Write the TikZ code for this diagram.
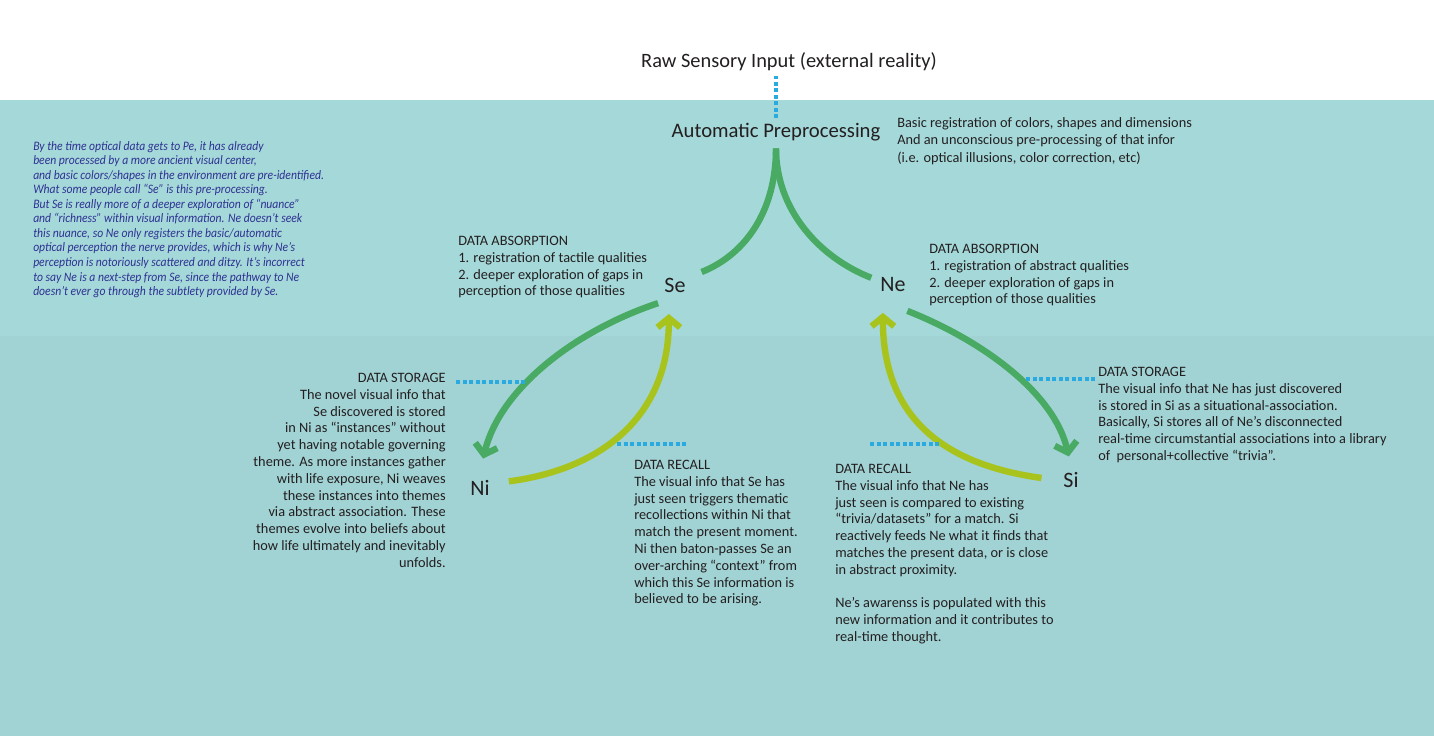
\documentclass[tikz,border=0pt]{standalone}
\usepackage{fontspec}
\setmainfont{Carlito}
\newfontfamily\notefont[FakeStretch=0.9]{Carlito}
\usetikzlibrary{arrows.meta}
\definecolor{tealtop}{RGB}{165,216,217}
\definecolor{tealbot}{RGB}{161,210,212}
\definecolor{flowgreen}{RGB}{73,170,100}
\definecolor{recalllime}{RGB}{168,196,28}
\definecolor{linkblue}{RGB}{41,171,226}
\definecolor{noteblue}{RGB}{46,49,146}
\definecolor{inkblack}{RGB}{35,31,32}

\begin{document}
\begin{tikzpicture}[x=0.75pt,y=-0.75pt,
  every node/.style={text=inkblack},
  func/.style={circle,minimum size=44pt,inner sep=0pt,font=\fontsize{16.5}{19}\selectfont},
  blurb/.style={align=left,anchor=north west,inner sep=0pt,font=\fontsize{10.75}{12.6}\selectfont},
  flow/.style={draw=flowgreen,line width=4.8pt},
  recall/.style={draw=recalllime,line width=4.8pt},
  link/.style={draw=linkblue,line width=3.6pt,dash pattern=on 3pt off 1.9pt},
  tip/.style={-{Straight Barb[length=7pt,width=17pt]}}]
\useasboundingbox (0,0) rectangle (1434,736);
% background bands
\fill[white] (0,0) rectangle (1434,100);
\fill[tealtop] (0,100) rectangle (1434,336);
\fill[tealbot] (0,336) rectangle (1434,736);

\node[font=\fontsize{15.3}{18}\selectfont] (raw) at (789,62) {Raw Sensory Input (external reality)};
\node[font=\fontsize{15.5}{18}\selectfont] (auto) at (776,132) {Automatic Preprocessing};
\node[func] (se) at (675,285) {Se};
\node[func] (ne) at (893,285) {Ne};
\node[func] (ni) at (480,488) {Ni};
\node[func] (si) at (1071,480) {Si};

\node[blurb,font=\fontsize{10.75}{13.1}\selectfont] (basic) at (897,117) {Basic registration of colors, shapes and dimensions\\And an unconscious pre-processing of that infor\\(i.e. optical illusions, color correction, etc)};
\node[blurb] (absse) at (458,236) {DATA ABSORPTION\\1. registration of tactile qualities\\2. deeper exploration of gaps in\\perception of those qualities};
\node[blurb] (absne) at (929,244) {DATA ABSORPTION\\1. registration of abstract qualities\\2. deeper exploration of gaps in\\perception of those qualities};
\node[blurb,align=right,anchor=north east] (storni) at (446,373) {DATA STORAGE\\The novel visual info that\\Se discovered is stored\\in Ni as “instances” without\\yet having notable governing\\theme. As more instances gather\\with life exposure, Ni weaves\\these instances into themes\\via abstract association. These\\themes evolve into beliefs about\\how life ultimately and inevitably\\unfolds.};
\node[blurb] (recni) at (634,460) {DATA RECALL\\The visual info that Se has\\just seen triggers thematic\\recollections within Ni that\\match the present moment.\\Ni then baton-passes Se an\\over-arching “context” from\\which this Se information is\\believed to be arising.};
\node[blurb] (recsi) at (835,464) {DATA RECALL\\The visual info that Ne has\\just seen is compared to existing\\“trivia/datasets” for a match. Si\\reactively feeds Ne what it finds that\\matches the present data, or is close\\in abstract proximity.\\[12.6pt]Ne’s awarenss is populated with this\\new information and it contributes to\\real-time thought.};
\node[blurb] (storsi) at (1098,367) {DATA STORAGE\\The visual info that Ne has just discovered\\is stored in Si as a situational-association.\\Basically, Si stores all of Ne’s disconnected\\real-time circumstantial associations into a library\\of \ personal+collective “trivia”.};
\node[blurb,font=\notefont\itshape\fontsize{9.7}{10.9}\selectfont,text=noteblue] (note) at (33,141) {By the time optical data gets to Pe, it has already\\been processed by a more ancient visual center,\\and basic colors/shapes in the environment are pre-identified.\\What some people call “Se” is this pre-processing.\\But Se is really more of a deeper exploration of “nuance”\\and “richness” within visual information. Ne doesn’t seek\\this nuance, so Ne only registers the basic/automatic\\optical perception the nerve provides, which is why Ne’s\\perception is notoriously scattered and ditzy. It’s incorrect\\to say Ne is a next-step from Se, since the pathway to Ne\\doesn’t ever go through the subtlety provided by Se.};

% input and split
\draw[link] (auto.north) -- (auto.north |- raw.south);
\draw[flow,shorten <=2pt] (auto.south) .. controls +(0,64) and +(45,-18) .. (se.26);
\draw[flow,shorten <=2pt,shorten >=-5pt] (auto.south) .. controls +(0,64) and +(-46,-18) .. (ne.161);

% storage and recall loops
\draw[flow,tip,shorten <=-4pt] (se.222) .. controls +(-78,26) and +(17,-70) .. (ni.84);
\draw[recall,tip] (ni.13) .. controls +(93,-12) and +(0,102) .. (se.258);
\draw[flow,tip,shorten >=-4.5pt] (ne.299) .. controls +(76,30) and +(-13,-57) .. (si.97);
\draw[recall,tip] (si.176) .. controls +(-95,-13) and +(0,107) .. (ne.250);

% leaders
\draw[link] ([shift={(10,9)}]storni.north east) -- ++(71,0);
\draw[link] ([shift={(-17,-16)}]recni.north west) -- ++(71,0);
\draw[link] ([shift={(-72,12)}]storsi.north west) -- ++(71,0);
\draw[link] ([shift={(35,-20)}]recsi.north west) -- ++(71,0);
\end{tikzpicture}
\end{document}
